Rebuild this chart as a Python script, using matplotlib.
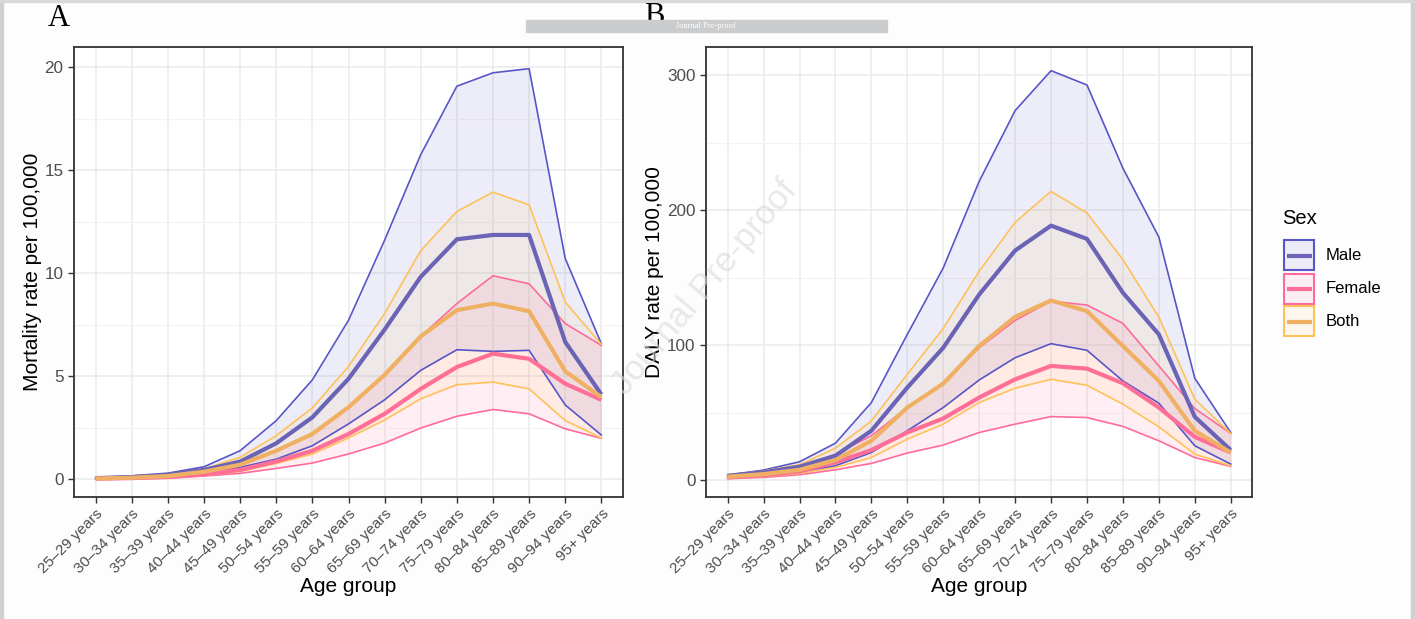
import numpy as np
import matplotlib
matplotlib.use("Agg")
import matplotlib.pyplot as plt
from matplotlib.patches import Rectangle
from matplotlib.lines import Line2D
from matplotlib.ticker import MultipleLocator

plt.rcParams['font.family'] = ['Liberation Sans', 'DejaVu Sans']

ages = ["25–29 years", "30–34 years", "35–39 years", "40–44 years", "45–49 years",
        "50–54 years", "55–59 years", "60–64 years", "65–69 years", "70–74 years",
        "75–79 years", "80–84 years", "85–89 years", "90–94 years", "95+ years"]

# panel A: mortality rate per 100,000
mort_male = [0.05, 0.10, 0.20, 0.45, 0.85, 1.74, 3.00, 4.87, 7.26, 9.82, 11.64, 11.85, 11.85, 6.66, 4.11]
mort_male_lo = [0.02, 0.06, 0.12, 0.25, 0.57, 0.97, 1.62, 2.68, 3.85, 5.28, 6.28, 6.20, 6.25, 3.60, 2.14]
mort_male_hi = [0.08, 0.16, 0.29, 0.60, 1.38, 2.84, 4.82, 7.71, 11.6, 15.75, 19.07, 19.72, 19.92, 10.71, 6.57]
mort_female = [0.02, 0.05, 0.10, 0.24, 0.45, 0.86, 1.38, 2.19, 3.17, 4.38, 5.44, 6.09, 5.84, 4.63, 3.85]
mort_female_lo = [0.01, 0.02, 0.05, 0.15, 0.28, 0.52, 0.78, 1.22, 1.75, 2.48, 3.05, 3.38, 3.17, 2.44, 1.98]
mort_female_hi = [0.03, 0.08, 0.16, 0.37, 0.73, 1.35, 2.19, 3.49, 5.11, 6.93, 8.52, 9.87, 9.48, 7.55, 6.49]
mort_both = [0.03, 0.07, 0.15, 0.36, 0.70, 1.38, 2.19, 3.49, 5.06, 6.93, 8.20, 8.52, 8.15, 5.23, 3.98]
mort_both_lo = [0.02, 0.04, 0.08, 0.19, 0.37, 0.76, 1.22, 2.00, 2.87, 3.90, 4.58, 4.71, 4.38, 2.84, 2.00]
mort_both_hi = [0.06, 0.13, 0.23, 0.49, 1.06, 2.11, 3.46, 5.47, 8.04, 11.09, 12.99, 13.93, 13.31, 8.60, 6.54]

# panel B: DALY rate per 100,000
daly_male = [3.2, 5.7, 9.9, 18.0, 36.5, 68.5, 98.0, 137.4, 170.0, 188.4, 178.6, 138.7, 107.9, 46.8, 22.2]
daly_male_lo = [2.0, 3.2, 5.7, 10.6, 20.4, 36.5, 53.7, 74.1, 90.6, 101.0, 96.1, 73.4, 56.9, 25.4, 11.8]
daly_male_hi = [3.7, 7.4, 13.5, 27.3, 57.4, 107.9, 157.1, 221.2, 273.6, 303.2, 292.6, 231.0, 180.0, 75.4, 35.2]
daly_female = [2.0, 3.7, 6.4, 13.1, 22.2, 35.2, 45.6, 61.1, 74.6, 84.5, 82.5, 71.7, 53.7, 32.0, 20.4]
daly_female_lo = [1.0, 2.0, 3.9, 7.6, 12.3, 20.0, 25.9, 35.2, 41.4, 47.0, 46.3, 39.7, 29.1, 16.7, 10.1]
daly_female_hi = [3.0, 5.4, 9.4, 19.2, 32.8, 53.7, 72.2, 98.0, 118.2, 132.5, 129.6, 116.0, 84.5, 53.0, 34.5]
daly_both = [2.5, 4.4, 7.6, 14.8, 29.1, 53.7, 71.4, 99.3, 120.9, 133.0, 125.1, 99.3, 73.4, 36.5, 20.4]
daly_both_lo = [1.5, 2.7, 4.9, 9.4, 16.7, 30.3, 41.4, 57.4, 68.0, 74.6, 70.2, 56.2, 39.4, 19.2, 10.6]
daly_both_hi = [3.4, 6.7, 11.3, 23.6, 43.8, 78.3, 112.3, 154.7, 190.9, 213.8, 197.8, 163.3, 120.7, 59.9, 34.5]

sexes = ["Male", "Female", "Both"]
thin_col = {"Male": "#5856C6", "Female": "#FF6B9B", "Both": "#FFC15A"}
thick_col = {"Male": "#6A63B6", "Female": "#FF6E96", "Both": "#EFB064"}

W, H = 1415, 619
fig = plt.figure(figsize=(W / 100, H / 100), dpi=100)
fig.patch.set_facecolor("#FDFDFD")


def fx(px):
    return px / W


def fy(py):
    # pixel row from the top -> figure fraction
    return 1 - py / H


# grey frame of the page
fig.patches.append(Rectangle((0, 0), 0.0021, 1, transform=fig.transFigure, color="#CFCFCF", zorder=0))
fig.patches.append(Rectangle((0.9975, 0), 0.0025, 1, transform=fig.transFigure, color="#CFCFCF", zorder=0))
fig.patches.append(Rectangle((0, 0.997), 1, 0.003, transform=fig.transFigure, color="#D8D8D8", zorder=0))


def draw_panel(ax, data, ylabel, ylim, major, minor):
    x = np.arange(len(ages))
    ax.set_facecolor("white")
    for s in sexes:
        mean, lo, hi = data[s]
        ax.fill_between(x, lo, hi, color=thin_col[s], alpha=0.1, lw=0, zorder=2)
    for s in sexes:
        mean, lo, hi = data[s]
        ax.plot(x, lo, color=thin_col[s], lw=1.2, zorder=3)
        ax.plot(x, hi, color=thin_col[s], lw=1.2, zorder=3)
    for s in sexes:
        mean, lo, hi = data[s]
        ax.plot(x, mean, color=thick_col[s], lw=3.0, zorder=4, solid_capstyle="butt")
    ax.set_xlim(-0.6, len(ages) - 0.4)
    ax.set_ylim(*ylim)
    ax.set_xticks(x)
    ax.set_xticklabels(ages, rotation=45, ha="right", va="top", rotation_mode="anchor",
                       fontsize=11, color="#4D4D4D")
    ax.yaxis.set_major_locator(MultipleLocator(major))
    ax.yaxis.set_minor_locator(MultipleLocator(minor))
    ax.tick_params(axis="y", which="major", labelsize=12.3, labelcolor="#4D4D4D",
                   length=4, width=1, color="#333333")
    ax.tick_params(axis="y", which="minor", length=0)
    ax.tick_params(axis="x", length=4, width=1, color="#333333", pad=3)
    ax.grid(which="major", color="#EBEBEB", lw=1.1, zorder=0)
    ax.grid(which="minor", axis="y", color="#F2F2F2", lw=0.8, zorder=0)
    ax.set_axisbelow(True)
    for sp in ax.spines.values():
        sp.set_color("#333333")
        sp.set_linewidth(1.3)
    ax.set_xlabel("Age group", fontsize=15, labelpad=1)
    ax.set_ylabel(ylabel, fontsize=15, labelpad=2)


axA = fig.add_axes([0.0523, 0.197, 0.388, 0.727])
draw_panel(axA, {"Male": (mort_male, mort_male_lo, mort_male_hi),
                 "Female": (mort_female, mort_female_lo, mort_female_hi),
                 "Both": (mort_both, mort_both_lo, mort_both_hi)},
           "Mortality rate per 100,000", (-0.87, 20.97), 5, 2.5)

axB = fig.add_axes([0.499, 0.197, 0.386, 0.727])
draw_panel(axB, {"Male": (daly_male, daly_male_lo, daly_male_hi),
                 "Female": (daly_female, daly_female_lo, daly_female_hi),
                 "Both": (daly_both, daly_both_lo, daly_both_hi)},
           "DALY rate per 100,000", (-12.6, 320.7), 100, 50)

# legend, built by hand like ggplot's key boxes
fig.text(fx(1282), fy(219), "Sex", fontsize=14.5, va="center", ha="left")
for i, s in enumerate(sexes):
    yc = 255.5 + 33 * i
    fig.patches.append(Rectangle((fx(1284), fy(yc + 15)), fx(30), 30 / H, transform=fig.transFigure,
                                 facecolor=matplotlib.colors.to_rgba(thin_col[s], 0.1),
                                 edgecolor=thin_col[s], lw=1.5, zorder=3))
    fig.lines.append(Line2D([fx(1286.5), fx(1311.5)], [fy(yc), fy(yc)], transform=fig.transFigure,
                            color=thick_col[s], lw=3, solid_capstyle="butt", zorder=4))
    fig.text(fx(1326), fy(yc), s, fontsize=12, va="center", ha="left")

# header: panel letters and preprint bar
fig.text(0.034, 0.947, "A", family="Liberation Serif", fontsize=22, va="bottom")
fig.text(0.455, 0.950, "B", family="Liberation Serif", fontsize=22, va="bottom")
fig.patches.append(Rectangle((fx(526), fy(32)), fx(361), 12 / H,
                             transform=fig.transFigure, color="#CBCCCE", zorder=5))
fig.text(fx(706), fy(26), "Journal Pre-proof", family="Liberation Serif", fontsize=6,
         color="white", ha="center", va="center", zorder=6)

# watermark
fig.text(fx(705), fy(287), "Journal Pre-proof", fontsize=25, color="#DADADA",
         alpha=0.6, rotation=50, ha="center", va="center", zorder=10)

fig.savefig("out.png", dpi=100, facecolor=fig.get_facecolor())
